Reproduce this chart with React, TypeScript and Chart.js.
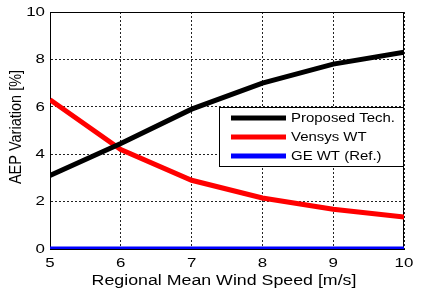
import React, { useEffect, useRef } from "react";
import { Chart, registerables } from "chart.js";

Chart.register(...registerables);

const windSpeeds = [5, 6, 7, 8, 9, 10];
const proposedTech = [3.1, 4.45, 5.9, 7.0, 7.8, 8.3];
const vensysWT = [6.3, 4.2, 2.9, 2.15, 1.68, 1.35];
const geWT = [0, 0, 0, 0, 0, 0];
const seriesLabels = ["Proposed Tech.", "Vensys WT", "GE WT (Ref.)"];
const seriesColors = ["#000000", "#ff0000", "#0000ff"];
const xTitle = "Regional Mean Wind Speed [m/s]";
const yTitle = "AEP Variation [%]";

const FONT = "'Liberation Sans', Arial, sans-serif";
const SX = 1.25;

function drawStretched(ctx: any, text: string, x: number, y: number, align: string, size: number, sx: number) {
  ctx.save();
  ctx.font = `${size}px ${FONT}`;
  ctx.fillStyle = "#000";
  ctx.textBaseline = "middle";
  const w = ctx.measureText(text).width * sx;
  let left = x;
  if (align === "center") left = x - w / 2;
  else if (align === "right") left = x - w;
  ctx.translate(left, y);
  ctx.scale(sx, 1);
  ctx.textAlign = "left";
  ctx.fillText(text, 0, 0);
  ctx.restore();
}

const textPlugin = {
  id: "stretchedText",
  afterDraw(chart: any) {
    const ctx = chart.ctx;
    const xs = chart.scales.x;
    const ys = chart.scales.y;
    xs.ticks.forEach((t: any) => {
      drawStretched(ctx, String(t.value), xs.getPixelForValue(t.value), 263, "center", 13.5, SX);
    });
    ys.ticks.forEach((t: any) => {
      drawStretched(ctx, String(t.value), 45, ys.getPixelForValue(t.value), "right", 13.5, SX);
    });
    drawStretched(ctx, xTitle, 224, 281, "center", 14, 1.27);
    ctx.save();
    ctx.translate(16, 127);
    ctx.rotate(-Math.PI / 2);
    ctx.scale(1, 1.2);
    ctx.font = `14.5px ${FONT}`;
    ctx.fillStyle = "#000";
    ctx.textAlign = "center";
    ctx.textBaseline = "middle";
    ctx.fillText(yTitle, 0, 0);
    ctx.restore();
  },
};

const legendPlugin = {
  id: "boxLegend",
  afterDatasetsDraw(chart: any) {
    const ctx = chart.ctx;
    const area = chart.chartArea;
    const x0 = 219;
    const y0 = 107;
    const w = area.right - x0;
    const h = 60;
    ctx.save();
    ctx.fillStyle = "#ffffff";
    ctx.fillRect(x0, y0, w, h);
    ctx.strokeStyle = "#000000";
    ctx.lineWidth = 1;
    ctx.strokeRect(x0 + 0.5, y0 + 0.5, w - 1, h - 1);
    chart.data.datasets.forEach((ds: any, i: number) => {
      const cy = y0 + 11 + i * 19;
      ctx.strokeStyle = ds.borderColor;
      ctx.lineWidth = 5;
      ctx.beginPath();
      ctx.moveTo(231, cy);
      ctx.lineTo(286, cy);
      ctx.stroke();
      drawStretched(ctx, ds.label, 291, cy, "left", 13, 1.15);
    });
    ctx.restore();
  },
};

export default function App() {
  const ref = useRef<HTMLCanvasElement>(null);
  useEffect(() => {
    document.body.style.margin = "0";
    const canvas = ref.current!;
    const data = [proposedTech, vensysWT, geWT];
    const chart = new Chart(canvas, {
      type: "line",
      data: {
        labels: windSpeeds,
        datasets: data.map((d, i) => ({
          label: seriesLabels[i],
          data: d.map((v, j) => ({ x: windSpeeds[j], y: v })),
          borderColor: seriesColors[i],
          backgroundColor: seriesColors[i],
          borderWidth: 5,
          pointRadius: 0,
          tension: 0,
        })),
      },
      options: {
        animation: false,
        responsive: false,
        devicePixelRatio: 1,
        layout: { padding: { left: 0, top: 12, right: 20, bottom: 0 } },
        plugins: {
          legend: { display: false },
          tooltip: { enabled: false },
        },
        scales: {
          x: {
            type: "linear",
            min: 5,
            max: 10,
            ticks: { stepSize: 1, display: false },
            grid: { color: "#222", lineWidth: 1, drawTicks: false },
            border: { display: true, color: "#000", width: 1, dash: [2, 2] },
            title: { display: false },
            afterFit(scale: any) {
              scale.height = 48;
            },
          },
          y: {
            min: 0,
            max: 10,
            ticks: { stepSize: 2, display: false },
            grid: { color: "#222", lineWidth: 1, drawTicks: false },
            border: { display: true, color: "#000", width: 1, dash: [2, 2] },
            title: { display: false },
            afterFit(scale: any) {
              scale.width = 50;
            },
          },
        },
      },
      plugins: [
        {
          id: "frame",
          beforeDatasetsDraw(c: any) {
            const a = c.chartArea;
            const ctx = c.ctx;
            ctx.save();
            ctx.strokeStyle = "#000";
            ctx.lineWidth = 1;
            ctx.setLineDash([]);
            ctx.strokeRect(Math.round(a.left) + 0.5, Math.round(a.top) + 0.5, Math.round(a.right - a.left) - 1, Math.round(a.bottom - a.top));
            ctx.restore();
          },
        },
        legendPlugin,
        textPlugin,
      ],
    } as any);
    return () => chart.destroy();
  }, []);
  return <canvas ref={ref} width={424} height={297} style={{ display: "block" }} />;
}
